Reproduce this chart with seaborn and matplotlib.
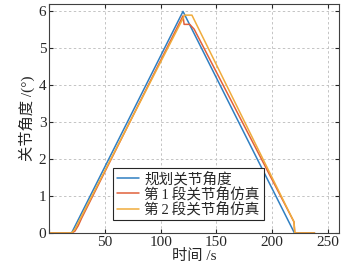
import numpy as np
import pandas as pd
import seaborn as sns
from matplotlib import pyplot as plt

# planned joint angle
plan_t = [0, 20, 120, 220, 238]
plan_deg = [0, 0, 6.0, 0, 0]

# stage 1 simulation
sim1_t = [0, 20, 23, 26, 29, 120, 121, 126, 130, 219.6, 220.3, 238]
sim1_deg = [0, 0, 0.05, 0.2, 0.4, 5.88, 5.65, 5.65, 5.52, 0.3, 0, 0]

# stage 2 simulation
sim2_t = [0, 20, 23, 26, 121.5, 128, 219.6, 220.3, 238]
sim2_deg = [0, 0, 0.1, 0.28, 5.9, 5.9, 0.3, 0, 0]

labels = ["规划关节角度", "第\u20091\u2009段关节角仿真", "第\u20092\u2009段关节角仿真"]
colors = ["#2f7fc1", "#e0603a", "#f0ac3c"]

frames = []
for t, d, lab in zip([plan_t, sim1_t, sim2_t], [plan_deg, sim1_deg, sim2_deg], labels):
    frames.append(pd.DataFrame({"t": t, "deg": d, "series": lab}))
df = pd.concat(frames, ignore_index=True)

sns.set_style("ticks")
plt.rcParams['font.family'] = ['Liberation Serif', 'Noto Sans CJK SC']
plt.rcParams['axes.unicode_minus'] = False

fig = plt.figure(figsize=(3.47, 2.70), dpi=100)
ax = fig.add_axes([0.142, 0.137, 0.835, 0.848])

sns.lineplot(data=df, x="t", y="deg", hue="series", palette=colors,
             sort=False, estimator=None, linewidth=1.1, ax=ax)

ax.set_xlim(0, 260)
ax.set_ylim(0, 6.2)
ax.set_xticks([0, 50, 100, 150, 200, 250])
ax.set_xticklabels(["", "50", "100", "150", "200", "250"])
ax.set_yticks([0, 1, 2, 3, 4, 5, 6])
ax.grid(True, linestyle=(0, (2.5, 2.5)), color="#c4c4c4", linewidth=0.7)
ax.tick_params(direction="in", top=True, right=True, labelsize=11, length=3,
               color="#262626", pad=2)
for s in ax.spines.values():
    s.set_color("#404040")
    s.set_linewidth(0.8)

ax.set_xlabel("时间 /s", fontsize=11, labelpad=0)
ax.set_ylabel("关节角度 /(°)", fontsize=11, labelpad=3)

leg = ax.legend(loc="lower left", bbox_to_anchor=(0.22, 0.055), fontsize=10.5,
                handlelength=1.5, handletextpad=0.4, borderpad=0.25,
                labelspacing=0.05, borderaxespad=0, fancybox=False, framealpha=1)
leg.get_frame().set_edgecolor("#262626")
leg.get_frame().set_linewidth(0.8)

fig.savefig("out.png", dpi=100)
